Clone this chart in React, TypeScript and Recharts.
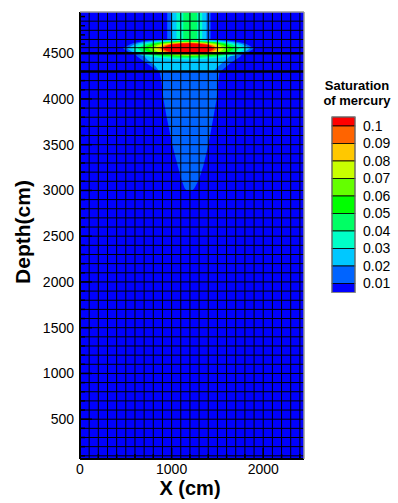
import React from "react";
import {
  ComposedChart,
  Area,
  XAxis,
  YAxis,
  CartesianGrid,
  ReferenceLine,
  Legend,
} from "recharts";

const FONT = '"Liberation Sans", Arial, Helvetica, sans-serif';

// flood colours, lowest contour level first (0.01 ... 0.1)
const FIELD_BG = "#0000FF";
const LEVEL_COLORS = [
  "#0064FF",
  "#00C8FF",
  "#00FFC8",
  "#00FF64",
  "#00FF00",
  "#64FF00",
  "#C8FF00",
  "#FFC800",
  "#FF6400",
  "#FF0000",
];
const LEVEL_LABELS = ["0.01", "0.02", "0.03", "0.04", "0.05", "0.06", "0.07", "0.08", "0.09", "0.1"];

const X_DOMAIN = [0, 2445];
const Y_DOMAIN = [65, 4950];
const X_TICKS = [0, 200, 400, 600, 800, 1000, 1200, 1400, 1600, 1800, 2000, 2200, 2400];
const X_LABELS = [0, 1000, 2000];
const Y_LABELS = [500, 1000, 1500, 2000, 2500, 3000, 3500, 4000, 4500];
const Y_TICKS = Array.from({ length: 49 }, (_, i) => (i + 1) * 100);

// mesh lines
const GRID_X = Array.from({ length: 24 }, (_, i) => (i + 1) * 100);
const GRID_Y = [...Array.from({ length: 44 }, (_, i) => (i + 1) * 100), 4560, 4650, 4750, 4850];
const THICK_Y = [4500, 4300];

// pancake lenses around depth 4550, one per level (x, upper depth, lower depth)
const PANCAKE_X = [
  [470, 577, 827, 1185, 1543, 1793, 1900],
  [515, 615, 850, 1185, 1520, 1755, 1855],
  [570, 662, 877, 1185, 1493, 1708, 1800],
  [630, 713, 907, 1185, 1463, 1657, 1740],
  [690, 764, 937, 1185, 1433, 1606, 1680],
  [745, 811, 965, 1185, 1405, 1559, 1625],
  [795, 853, 990, 1185, 1380, 1517, 1575],
  [840, 892, 1012, 1185, 1358, 1478, 1530],
  [875, 921, 1030, 1185, 1340, 1449, 1495],
  [905, 947, 1045, 1185, 1325, 1423, 1465],
];
const PANCAKE_TOP = [
  [4550, 4608, 4645, 4660, 4645, 4608, 4550],
  [4550, 4603, 4637, 4650, 4637, 4603, 4550],
  [4550, 4597, 4628, 4640, 4628, 4597, 4550],
  [4550, 4594, 4623, 4634, 4623, 4594, 4550],
  [4550, 4592, 4619, 4630, 4619, 4592, 4550],
  [4550, 4590, 4616, 4626, 4616, 4590, 4550],
  [4550, 4588, 4612, 4622, 4612, 4588, 4550],
  [4550, 4586, 4609, 4618, 4609, 4586, 4550],
  [4550, 4584, 4605, 4614, 4605, 4584, 4550],
  [4550, 4581, 4600, 4608, 4600, 4581, 4550],
];
const PANCAKE_BOTTOM = [
  [4550, 4492, 4455, 4440, 4455, 4492, 4550],
  [4550, 4492, 4455, 4440, 4455, 4492, 4550],
  [4550, 4488, 4448, 4432, 4448, 4488, 4550],
  [4550, 4496, 4462, 4448, 4462, 4496, 4550],
  [4550, 4503, 4472, 4460, 4472, 4503, 4550],
  [4550, 4508, 4481, 4470, 4481, 4508, 4550],
  [4550, 4512, 4488, 4478, 4488, 4512, 4550],
  [4550, 4516, 4495, 4486, 4495, 4516, 4550],
  [4550, 4519, 4500, 4492, 4500, 4519, 4550],
  [4550, 4524, 4507, 4500, 4507, 4524, 4550],
];

// injection column at the top, levels 0.01 - 0.04
const COLUMN_X = [
  [952, 1425],
  [995, 1381],
  [1053, 1334],
  [1127, 1279],
];
const COLUMN_DEPTH = [4600, 4950];

// 0.01 plume sinking below the pancake
const PLUME_X = [560, 624, 715, 824, 868, 886, 912, 944, 981, 1021, 1068, 1108, 1141, 1165, 1225, 1250, 1297, 1345, 1389, 1425, 1458, 1490, 1512, 1523, 1560, 1650, 1752, 1810];
const PLUME_BOTTOM = [4550, 4463, 4397, 4321, 4295, 4211, 3992, 3810, 3628, 3445, 3263, 3117, 3026, 2997, 2997, 3026, 3117, 3263, 3445, 3628, 3810, 3992, 4211, 4295, 4321, 4397, 4463, 4550];
const PLUME_TOP = 4550;

// 0.02 bowl under the pancake
const BOWL_X = [690, 733, 824, 861, 880, 1440, 1460, 1510, 1600, 1650];
const BOWL_BOTTOM = [4480, 4430, 4357, 4306, 4300, 4300, 4306, 4357, 4430, 4480];
const BOWL_TOP = 4550;

const lensData = (i: number) =>
  PANCAKE_X[i].map((x, j) => ({ x, d: [PANCAKE_BOTTOM[i][j], PANCAKE_TOP[i][j]] }));
const columnData = (i: number) => COLUMN_X[i].map((x) => ({ x, d: COLUMN_DEPTH }));
const plumeData = PLUME_X.map((x, j) => ({ x, d: [PLUME_BOTTOM[j], PLUME_TOP] }));
const bowlData = BOWL_X.map((x, j) => ({ x, d: [BOWL_BOTTOM[j], BOWL_TOP] }));

function flood(key: string, data: any[], color: string, type: "monotone" | "linear") {
  return (
    <Area
      key={key}
      data={data}
      dataKey="d"
      type={type}
      fill={color}
      fillOpacity={1}
      stroke="none"
      dot={false}
      activeDot={false}
      isAnimationActive={false}
    />
  );
}

function YTick(props: any) {
  const { x, y, payload } = props;
  const major = Y_LABELS.includes(payload.value);
  return (
    <g>
      <line x1={x} x2={x + (major ? 12 : 5)} y1={y} y2={y} stroke="#000" strokeWidth={1.5} />
      {major && (
        <text x={x - 6} y={y} dy="0.35em" textAnchor="end" fontSize={14} fontFamily={FONT} fill="#000">
          {payload.value}
        </text>
      )}
    </g>
  );
}

function XTick(props: any) {
  const { x, y, payload } = props;
  const major = X_LABELS.includes(payload.value);
  return (
    <g>
      <line x1={x} x2={x} y1={y} y2={y - (major ? 11 : 5)} stroke="#000" strokeWidth={1.5} />
      {major && (
        <text x={x} y={y + 15} textAnchor="middle" fontSize={14} fontFamily={FONT} fill="#000">
          {payload.value}
        </text>
      )}
    </g>
  );
}

function ColorBar() {
  const top = 47;
  const left = 14;
  const w = 23;
  const band = 17.5;
  const half = 9;
  const colors = [...LEVEL_COLORS].reverse().concat(FIELD_BG);
  const labels = [...LEVEL_LABELS].reverse();
  return (
    <svg width={80} height={235} style={{ fontFamily: FONT, display: "block" }}>
      <text x={39} y={20} textAnchor="middle" fontSize={13} fontWeight="bold">
        Saturation
      </text>
      <text x={39} y={35} textAnchor="middle" fontSize={13} fontWeight="bold">
        of mercury
      </text>
      {colors.map((c, i) => {
        const y = i === 0 ? top : top + half + (i - 1) * band;
        const h = i === 0 || i === colors.length - 1 ? half : band;
        return <rect key={c} x={left} y={y} width={w} height={h} fill={c} stroke="#000" strokeWidth={0.8} />;
      })}
      <rect x={left} y={top} width={w} height={half * 2 + band * 9} fill="none" stroke="#888" strokeWidth={1} />
      {labels.map((l, i) => (
        <text key={l} x={left + w + 8} y={top + half + i * band} dy="0.35em" fontSize={14}>
          {l}
        </text>
      ))}
    </svg>
  );
}

export default function App() {
  const series: React.ReactNode[] = [];
  LEVEL_COLORS.forEach((color, i) => {
    series.push(flood(`lens${i}`, lensData(i), color, "monotone"));
    if (i < COLUMN_X.length) series.push(flood(`col${i}`, columnData(i), color, "linear"));
    if (i === 0) series.push(flood("plume", plumeData, color, "linear"));
    if (i === 1) series.push(flood("bowl", bowlData, color, "linear"));
  });

  return (
    <div style={{ position: "absolute", left: 0, top: 0, width: 398, height: 503, background: "#fff", fontFamily: FONT }}>
      <ComposedChart width={398} height={503} margin={{ top: 12, right: 94, bottom: 0, left: 0 }}>
        <CartesianGrid fill={FIELD_BG} fillOpacity={1} horizontal={false} vertical={false} stroke="none" />
        <XAxis
          type="number"
          dataKey="x"
          domain={X_DOMAIN}
          allowDataOverflow
          ticks={X_TICKS}
          interval={0}
          height={44}
          tickSize={0}
          tickMargin={0}
          tickLine={false}
          tick={<XTick />}
          axisLine={{ stroke: "#000", strokeWidth: 2 }}
        />
        <YAxis
          type="number"
          domain={Y_DOMAIN}
          allowDataOverflow
          ticks={Y_TICKS}
          interval={0}
          width={80}
          tickSize={0}
          tickMargin={0}
          tickLine={false}
          tick={<YTick />}
          axisLine={{ stroke: "#000", strokeWidth: 2 }}
        />
        {series}
        {GRID_X.map((v) => (
          <ReferenceLine key={`gx${v}`} x={v} stroke="#000" strokeWidth={1} zIndex={900} />
        ))}
        {GRID_Y.map((v) => (
          <ReferenceLine key={`gy${v}`} y={v} stroke="#000" strokeWidth={1} zIndex={900} />
        ))}
        {THICK_Y.map((v) => (
          <ReferenceLine key={`ty${v}`} y={v} stroke="#000" strokeWidth={2.6} zIndex={900} />
        ))}
        <ReferenceLine y={Y_DOMAIN[1]} stroke="#999" strokeWidth={1.5} zIndex={900} />
        <ReferenceLine x={X_DOMAIN[1]} stroke="#999" strokeWidth={1.5} zIndex={900} />
        <Legend
          layout="vertical"
          align="center"
          verticalAlign="middle"
          wrapperStyle={{ left: 318, top: 70, width: 80, height: 235 }}
          content={() => <ColorBar />}
        />
      </ComposedChart>
      <svg width={398} height={503} style={{ position: "absolute", left: 0, top: 0, pointerEvents: "none" }}>
        <text
          x={22}
          y={232}
          transform="rotate(-90 22 232)"
          textAnchor="middle"
          dominantBaseline="central"
          fontSize={21}
          fontWeight="bold"
          fontFamily={FONT}
        >
          Depth(cm)
        </text>
        <text x={190} y={495} textAnchor="middle" fontSize={20} fontWeight="bold" fontFamily={FONT}>
          X (cm)
        </text>
      </svg>
    </div>
  );
}
